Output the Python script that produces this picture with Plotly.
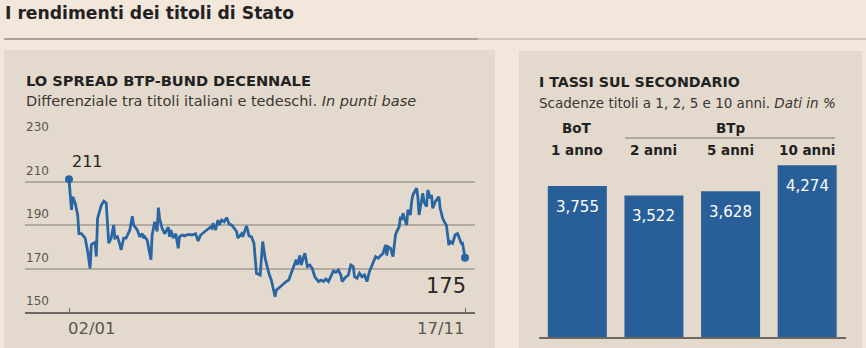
import plotly.graph_objects as go

W, H = 866, 348

# ---- Data: BTP-Bund spread (days since 02/01, basis points) ----
giorni = [0, 2, 3, 5, 7, 8, 10, 13, 15, 17, 18, 21, 22, 23, 26, 28, 30, 32, 34, 36,
          37, 39, 41, 42, 44, 46, 49, 51, 52, 55, 57, 59, 60, 61, 63, 64, 66, 67, 69, 71,
          72, 73, 75, 77, 79, 80, 81, 82, 84, 86, 88, 89, 91, 93, 96, 99, 102, 104, 106, 109,
          111, 114, 115, 116, 118, 120, 121, 123, 125, 127, 129, 131, 133, 135, 136, 139, 140, 143, 145, 147,
          149, 151, 154, 156, 158, 161, 163, 165, 166, 167, 170, 173, 175, 177, 179, 181, 183, 184, 186, 187,
          189, 190, 192, 194, 196, 198, 201, 203, 205, 207, 209, 211, 213, 215, 217, 219, 220, 222, 225, 227,
          229, 230, 232, 234, 236, 238, 240, 242, 245, 247, 249, 251, 253, 255, 256, 257, 259, 261, 263, 264,
          266, 267, 268, 269, 271, 272, 273, 275, 276, 277, 280, 281, 282, 283, 285, 286, 288, 289, 291, 292,
          293, 295, 298, 299, 301, 303, 304, 306, 307, 309, 311, 313, 314, 316, 317, 319]
spread = [211, 197, 203, 200, 194.6, 186, 186, 184, 178, 170, 181, 182, 175.5, 193, 199, 201, 200, 181.6, 184, 190,
          184, 184.6, 181, 178.5, 184, 184, 187.7, 194, 190, 187.7, 184.6, 186, 184, 184.6, 183, 180, 174, 185.4, 191.5, 187,
          198, 193, 188.5, 186, 187.7, 189, 184.6, 187.7, 184, 186, 179.3, 184.6, 185.4, 185, 185.7, 185.4, 186, 182.6, 185.4, 187,
          187.7, 189, 188.5, 190.8, 187.7, 192.3, 190, 192.3, 191.5, 193.4, 190.4, 190, 188.2, 187, 184, 186, 184.6, 189.6, 185, 184.6,
          181.6, 167.8, 167, 182.4, 174.7, 167.8, 164.7, 159.3, 157, 160, 161.6, 163, 164, 164.7, 167.8, 170, 174, 171.6, 176, 171.6,
          174.7, 177, 170.9, 171.6, 170, 166.2, 164, 164.7, 164, 165.2, 164, 166.2, 168.9, 168.3, 169.3, 167, 164, 165.5, 167, 171.6,
          170.9, 166.2, 165.5, 167.8, 166.2, 167, 164, 168.5, 172.4, 175.5, 174.7, 176, 177, 180.8, 176, 180, 179.3, 175.5, 185.4, 187,
          189.2, 193.8, 192.3, 195.4, 192.3, 190, 196.9, 194.6, 200.7, 203.8, 206.9, 203, 194.6, 197.7, 204.6, 200.7, 198.4, 206.1, 202.3, 203.8,
          197.7, 200.7, 203, 197.7, 193.1, 190.8, 190, 180.8, 182.4, 181.6, 185.4, 186.1, 184.6, 181.6, 181.6, 175]
y_ticks = [150, 170, 190, 210, 230]
x_tick_vals = [0, 319]
x_tick_text = ["02/01", "17/11"]

# ---- Data: secondary market yields ----
scadenze = ["1 anno", "2 anni", "5 anni", "10 anni"]
tassi = [3.755, 3.522, 3.628, 4.274]

FONT = "DejaVu Sans"
BLUE_LINE = "#2a66a4"
BLUE_BAR = "#285f98"
BG = "#f3e6da"
PANEL = "#e3dacd"
DARK = "#222222"
GREY_TXT = "#5a5550"


def px_x(px):
    return px / W


def px_y(py):
    return 1 - py / H


fig = go.Figure()

# Line chart
fig.add_trace(go.Scatter(x=giorni, y=spread, mode="lines",
                         line=dict(color=BLUE_LINE, width=2.8),
                         xaxis="x", yaxis="y", hoverinfo="skip", cliponaxis=False))
fig.add_trace(go.Scatter(x=[giorni[0], giorni[-1]], y=[spread[0], spread[-1]], mode="markers",
                         marker=dict(color=BLUE_LINE, size=8),
                         xaxis="x", yaxis="y", hoverinfo="skip", cliponaxis=False))

# Bar chart
fig.add_trace(go.Bar(x=scadenze, y=tassi, marker=dict(color=BLUE_BAR, line=dict(width=0)),
                     xaxis="x2", yaxis="y2", hoverinfo="skip"))

shapes = []
# top rule
shapes.append(dict(type="line", xref="paper", yref="paper", x0=px_x(4), x1=px_x(478),
                   y0=px_y(39), y1=px_y(39), line=dict(color="#aaa197", width=2), layer="below"))
shapes.append(dict(type="line", xref="paper", yref="paper", x0=px_x(478), x1=1,
                   y0=px_y(39), y1=px_y(39), line=dict(color="#cfc5b9", width=2), layer="below"))
# panels
shapes.append(dict(type="rect", xref="paper", yref="paper", x0=px_x(4), x1=px_x(495),
                   y0=0, y1=px_y(50), fillcolor=PANEL, line=dict(width=0), layer="below"))
shapes.append(dict(type="rect", xref="paper", yref="paper", x0=px_x(519), x1=px_x(862),
                   y0=0, y1=px_y(51), fillcolor=PANEL, line=dict(width=0), layer="below"))
# BTp header rule
shapes.append(dict(type="line", xref="paper", yref="paper", x0=px_x(625), x1=px_x(835),
                   y0=px_y(138), y1=px_y(138), line=dict(color="#9d968d", width=1.5)))

annotations = []
annotations.append(dict(text="<b>I rendimenti dei titoli di Stato</b>", xref="paper", yref="paper",
                        x=px_x(3), y=px_y(13), xanchor="left", yanchor="middle", showarrow=False,
                        font=dict(family=FONT, size=17.2, color=DARK)))
annotations.append(dict(text="<b>LO SPREAD BTP-BUND DECENNALE</b>", xref="paper", yref="paper",
                        x=px_x(24), y=px_y(81), xanchor="left", yanchor="middle", showarrow=False,
                        font=dict(family=FONT, size=14.6, color=DARK)))
annotations.append(dict(text="Differenziale tra titoli italiani e tedeschi. <i>In punti base</i>",
                        xref="paper", yref="paper", x=px_x(24), y=px_y(101), xanchor="left",
                        yanchor="middle", showarrow=False, font=dict(family=FONT, size=14.5, color="#3a3632")))
annotations.append(dict(text="<b>I TASSI SUL SECONDARIO</b>", xref="paper", yref="paper",
                        x=px_x(537), y=px_y(82), xanchor="left", yanchor="middle", showarrow=False,
                        font=dict(family=FONT, size=14.2, color=DARK)))
annotations.append(dict(text="Scadenze titoli a 1, 2, 5 e 10 anni. <i>Dati in %</i>",
                        xref="paper", yref="paper", x=px_x(537), y=px_y(103), xanchor="left",
                        yanchor="middle", showarrow=False, font=dict(family=FONT, size=13.5, color="#3a3632")))

# y tick labels above gridlines
for v in y_ticks:
    annotations.append(dict(text=str(v), xref="paper", yref="y", x=px_x(24), y=v,
                            xanchor="left", yanchor="bottom", yshift=2, showarrow=False,
                            font=dict(family=FONT, size=12, color=GREY_TXT)))
# x tick labels
for i, (v, t) in enumerate(zip(x_tick_vals, x_tick_text)):
    annotations.append(dict(text=t, xref="x", yref="paper", x=v, y=px_y(328),
                            xanchor="left" if i == 0 else "right", yanchor="middle",
                            xshift=-3 if i == 0 else 2,
                            showarrow=False, font=dict(family=FONT, size=16.5, color=GREY_TXT)))
# first/last values
annotations.append(dict(text=str(spread[0]), xref="x", yref="y", x=giorni[0], y=spread[0],
                        xanchor="left", yanchor="bottom", xshift=1, yshift=6, showarrow=False,
                        font=dict(family=FONT, size=16, color="#2a2622")))
annotations.append(dict(text=str(spread[-1]), xref="x", yref="y", x=giorni[-1], y=spread[-1],
                        xanchor="right", yanchor="top", xshift=3, yshift=-14, showarrow=False,
                        font=dict(family=FONT, size=21, color="#2a2622")))

# bar headers
annotations.append(dict(text="<b>BoT</b>", xref="x2", yref="paper", x=scadenze[0], y=px_y(128),
                        xanchor="center", yanchor="middle", showarrow=False,
                        font=dict(family=FONT, size=13.5, color=DARK)))
annotations.append(dict(text="<b>BTp</b>", xref="x2", yref="paper", x=scadenze[2], y=px_y(128),
                        xanchor="center", yanchor="middle", showarrow=False,
                        font=dict(family=FONT, size=13.5, color=DARK)))
for s in scadenze:
    annotations.append(dict(text=f"<b>{s}</b>", xref="x2", yref="paper", x=s, y=px_y(150),
                            xanchor="center", yanchor="middle", showarrow=False,
                            font=dict(family=FONT, size=13.5, color=DARK)))
# bar value labels
for s, v in zip(scadenze, tassi):
    annotations.append(dict(text=f"{v:.3f}".replace(".", ","), xref="x2", yref="y2", x=s, y=v,
                            xanchor="center", yanchor="top", yshift=-10, showarrow=False,
                            font=dict(family=FONT, size=15, color="white")))

# line chart axis geometry
x_lo = (25 - 69) * 319 / 396
x_hi = (475 - 69) * 319 / 396

fig.update_layout(
    width=W, height=H, margin=dict(l=0, r=0, t=0, b=0),
    paper_bgcolor=BG, plot_bgcolor="rgba(0,0,0,0)",
    showlegend=False, shapes=shapes, annotations=annotations,
    bargap=0.23,
    xaxis=dict(domain=[px_x(25), px_x(475)], range=[x_lo, x_hi], anchor="y", showgrid=False, zeroline=False,
               showline=True, linecolor="#6e6862", linewidth=1.6,
               tickvals=x_tick_vals, ticks="inside", ticklen=4, tickcolor="#6e6862", tickwidth=1.2,
               showticklabels=False, fixedrange=True),
    yaxis=dict(domain=[px_y(312), px_y(138)], range=[150, 230], anchor="x", tickvals=y_ticks[1:],
               showgrid=True, gridcolor="#b3aba1", gridwidth=1.6, zeroline=False,
               showticklabels=False, ticks="", showline=False, fixedrange=True),
    xaxis2=dict(domain=[px_x(539), px_x(845.5)], range=[-0.5, 3.5], anchor="y2", showgrid=False, zeroline=False,
                showline=True, linecolor="#6e6862", linewidth=2, ticks="", showticklabels=False,
                fixedrange=True),
    yaxis2=dict(domain=[px_y(337), px_y(156.1)], range=[0, 4.5], anchor="x2", showgrid=False, zeroline=False,
                showticklabels=False, ticks="", showline=False, fixedrange=True),
)

fig.write_html("out.html", config=dict(displayModeBar=False))
